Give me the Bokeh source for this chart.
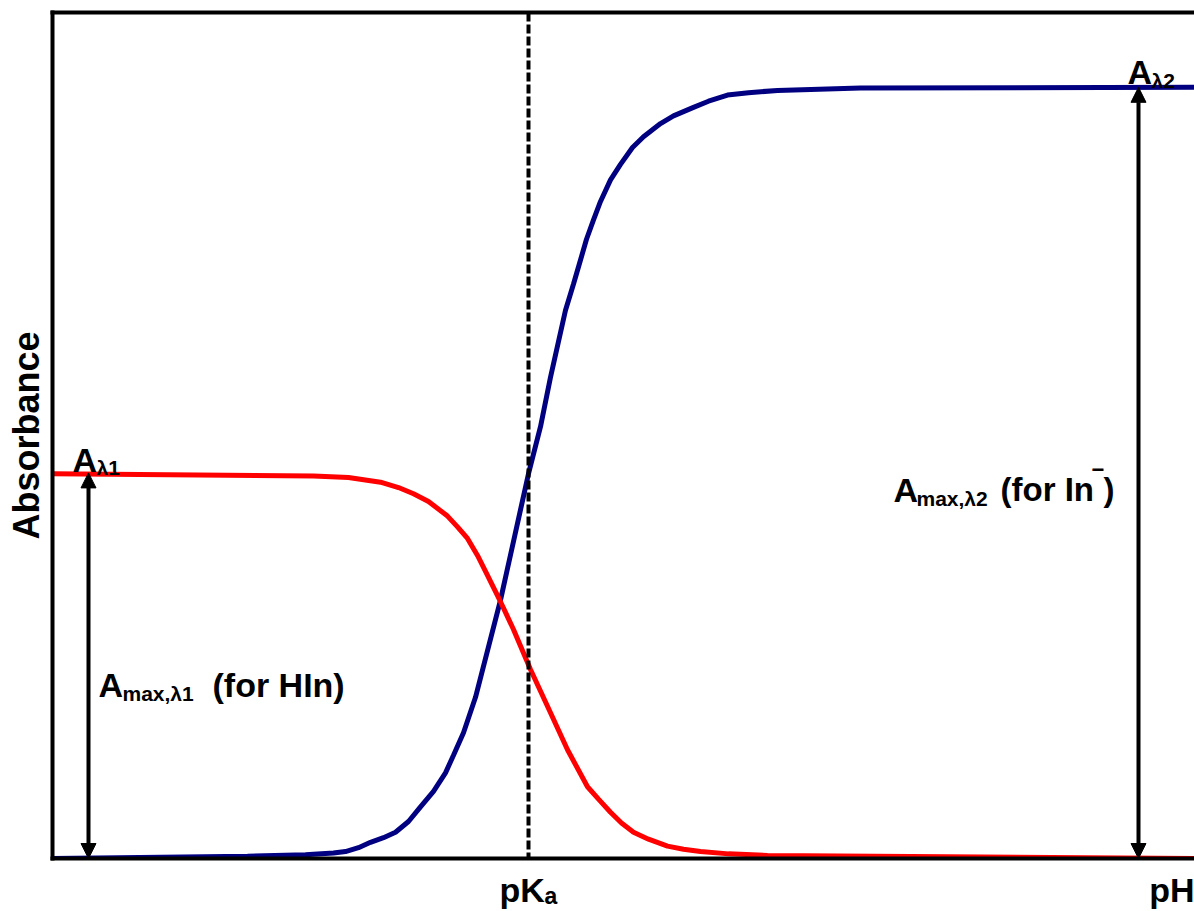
import math
from bokeh.plotting import figure
from bokeh.models import Range1d, LinearAxis, FixedTicker, Span, Arrow, NormalHead, Label
from bokeh.embed import file_html
from bokeh.resources import INLINE

# ---- data (pH, absorbance) ----
ph_blue = [2.24, 4.19, 4.77, 5.05, 5.17, 5.30, 5.42, 5.55, 5.67, 5.80, 5.92, 6.05, 6.17, 6.25,
           6.35, 6.47, 6.72, 7.00, 7.12, 7.22, 7.37, 7.45, 7.52, 7.58, 7.65, 7.72, 7.82, 7.92,
           8.04, 8.15, 8.32, 8.45, 8.65, 8.80, 8.99, 9.20, 9.49, 10.32, 13.66]
abs_blue = [0.000, 0.003, 0.005, 0.007, 0.009, 0.014, 0.021, 0.027, 0.034, 0.048, 0.067, 0.087,
            0.111, 0.134, 0.163, 0.209, 0.335, 0.499, 0.560, 0.624, 0.711, 0.745, 0.776, 0.803,
            0.828, 0.852, 0.880, 0.900, 0.922, 0.936, 0.953, 0.963, 0.974, 0.982, 0.990, 0.993,
            0.996, 0.999, 1.000]

ph_red = [2.24, 4.85, 5.20, 5.52, 5.70, 5.85, 6.00, 6.19, 6.29, 6.39, 6.49, 6.59, 6.72, 6.85,
          7.02, 7.22, 7.39, 7.59, 7.70, 7.82, 7.93, 8.05, 8.20, 8.39, 8.55, 8.72, 9.00, 9.39, 13.66]
abs_red = [0.499, 0.496, 0.494, 0.488, 0.481, 0.473, 0.463, 0.444, 0.430, 0.415, 0.393, 0.367,
           0.333, 0.297, 0.245, 0.189, 0.141, 0.093, 0.077, 0.060, 0.046, 0.034, 0.025, 0.016,
           0.012, 0.009, 0.006, 0.004, 0.000]

pka = 7.0
amax_hin = 0.5
amax_in = 1.0
x_ticks = [7.0, 13.46]
x_tick_labels = {7.0: "pKₐ", 13.46: "pH"}

X0, X1 = 2.24, 13.66
Y0, Y1 = 0.0, 1.097

FONT = "Liberation Sans"

p = figure(width=1194, height=911, x_range=Range1d(X0, X1), y_range=Range1d(Y0, Y1),
           output_backend="svg", toolbar_location=None,
           x_axis_location=None, y_axis_location=None,
           min_border_left=52, min_border_right=0, min_border_top=12, min_border_bottom=52)
p.outline_line_color = None
p.grid.visible = False
p.background_fill_color = "white"
p.border_fill_color = "white"


def frame_axis(ticks=()):
    return LinearAxis(ticker=FixedTicker(ticks=list(ticks)), axis_line_width=4, axis_line_color="black",
                      axis_line_cap="square", major_tick_line_color=None, minor_tick_line_color=None,
                      major_tick_out=0, minor_tick_out=0, major_tick_in=0, minor_tick_in=0,
                      major_label_text_font=FONT, major_label_text_font_style="bold",
                      major_label_text_font_size="34px", major_label_text_color="black",
                      major_label_standoff=12, axis_label_standoff=0)


left_axis = frame_axis()
left_axis.major_label_text_font_size = "0px"
left_axis.major_label_standoff = 0
left_axis.axis_label = "Absorbance"
left_axis.axis_label_text_font = FONT
left_axis.axis_label_text_font_style = "bold"
left_axis.axis_label_text_font_size = "36px"
left_axis.axis_label_text_color = "black"
left_axis.axis_label_standoff = 6
p.add_layout(left_axis, "left")

bottom_axis = frame_axis(x_ticks)
bottom_axis.major_label_overrides = x_tick_labels
p.add_layout(bottom_axis, "below")

top_axis = frame_axis()
top_axis.major_label_text_font_size = "0px"
top_axis.major_label_standoff = 0
p.add_layout(top_axis, "above")

p.line(ph_blue, abs_blue, line_color="#000080", line_width=5)
p.line(ph_red, abs_red, line_color="#FF0000", line_width=5)

p.add_layout(Span(location=pka, dimension="height", line_color="black",
                  line_width=4, line_dash="9 3"))


def head():
    return NormalHead(size=15, fill_color="black", line_color="black", line_width=1)


p.add_layout(Arrow(start=head(), end=head(), x_start=2.60, y_start=0.0, x_end=2.60, y_end=amax_hin,
                   line_color="black", line_width=4))
p.add_layout(Arrow(start=head(), end=head(), x_start=13.10, y_start=0.0, x_end=13.10, y_end=amax_in,
                   line_color="black", line_width=4))


def dx(px):
    return X0 + (px - 52) / 100.0


def dy(py):
    return (859 - py) / 772.0


def lab(text, px, py, size, align="left", baseline="alphabetic", angle=0.0):
    p.add_layout(Label(x=dx(px), y=dy(py), text=text, text_font=FONT, text_font_style="bold",
                       text_font_size=f"{size}px", text_color="black", text_align=align,
                       text_baseline=baseline, angle=angle))


# A_λ1
lab("A", 72, 460, 34)
lab("λ1", 96, 468, 21)
# A_max,λ1 (for HIn)
lab("A", 98, 685, 34)
lab("max,λ1", 122, 694, 21)
lab("(for HIn)", 212, 685, 34)
# A_max,λ2 (for In−)
lab("A", 893, 490, 34)
lab("max,λ2", 916, 499, 21)
lab("(for In", 1000, 490, 33)
lab("−", 1091, 470, 22)
lab(")", 1103, 490, 33)
# A_λ2
lab("A", 1127, 72, 34)
lab("λ2", 1151, 80, 21)

open("out.html", "w").write(file_html(p, INLINE))
